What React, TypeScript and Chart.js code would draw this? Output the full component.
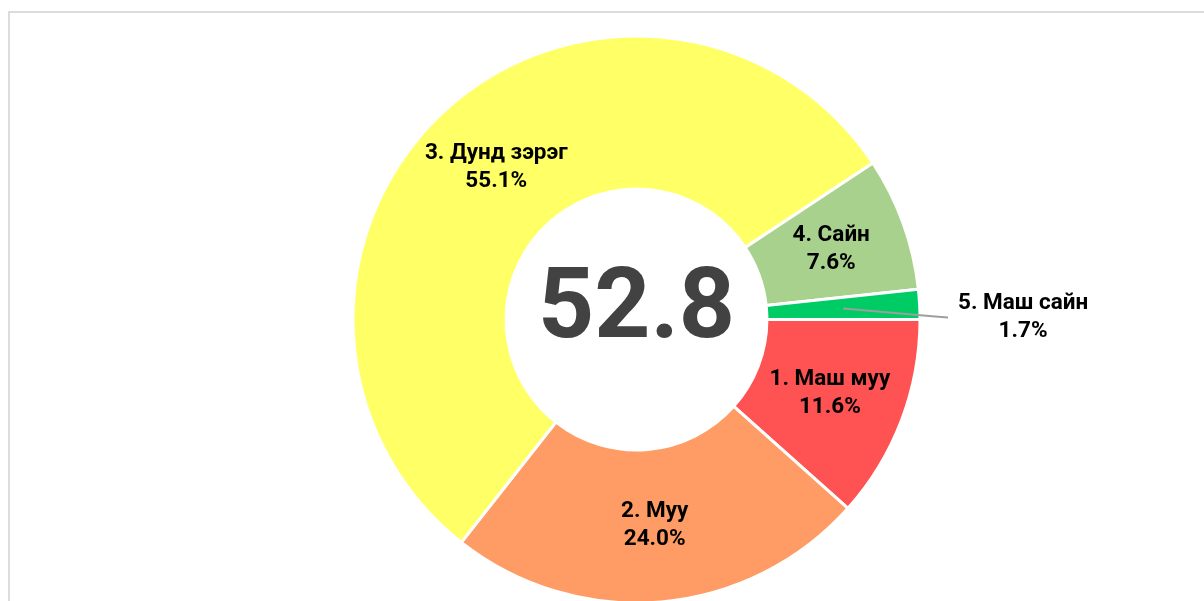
import React, { useEffect, useRef } from "react";
import { Chart, registerables } from "chart.js";

Chart.register(...registerables);

const categories = ["1. Маш муу", "2. Муу", "3. Дунд зэрэг", "4. Сайн", "5. Маш сайн"];
const shares = [11.6, 24.0, 55.1, 7.6, 1.7];
const sliceColors = ["#FF5252", "#FF9C66", "#FFFF66", "#A9D18E", "#00CC66"];
const centerValue = "52.8";

const labelPlugin = {
  id: "sliceLabels",
  afterDatasetsDraw(chart: any) {
    const ctx = chart.ctx as CanvasRenderingContext2D;
    const meta = chart.getDatasetMeta(0);
    const total = shares.reduce((a, b) => a + b, 0);
    ctx.save();
    meta.data.forEach((arc: any, i: number) => {
      const p = arc.getProps(["x", "y", "startAngle", "endAngle", "innerRadius", "outerRadius"], true);
      const mid = (p.startAngle + p.endAngle) / 2;
      const line1 = categories[i];
      const line2 = shares[i].toFixed(1) + "%";
      ctx.font = "bold 22.5px Roboto";
      ctx.fillStyle = "#000";
      ctx.textBaseline = "middle";
      ctx.textAlign = "center";
      const frac = shares[i] / total;
      const rMid = (p.innerRadius + p.outerRadius) / 2;
      const half = 14;
      if (frac >= 0.05) {
        const x = p.x + Math.cos(mid) * rMid;
        const y = p.y + Math.sin(mid) * rMid;
        ctx.fillText(line1, x, y - half);
        ctx.fillText(line2, x, y + half);
      } else {
        const sx = p.x + Math.cos(mid) * rMid;
        const sy = p.y + Math.sin(mid) * rMid;
        const ex = p.x + p.outerRadius + 28;
        const ey = p.y - 2;
        ctx.strokeStyle = "#9E9E9E";
        ctx.lineWidth = 2;
        ctx.beginPath();
        ctx.moveTo(sx, sy);
        ctx.lineTo(ex - 13, ey - 1);
        ctx.lineTo(ex, ey);
        ctx.stroke();
        const w = Math.max(ctx.measureText(line1).width, ctx.measureText(line2).width);
        const tx = ex + 10 + w / 2;
        ctx.fillText(line1, tx, ey - half);
        ctx.fillText(line2, tx, ey + half);
      }
    });
    const first = meta.data[0];
    if (first) {
      ctx.font = "bold 98px Roboto";
      ctx.fillStyle = "#424242";
      ctx.textAlign = "center";
      ctx.textBaseline = "alphabetic";
      ctx.fillText(centerValue, first.x, first.y + 17.5);
    }
    ctx.restore();
  },
};

export default function App() {
  const ref = useRef<HTMLCanvasElement>(null);
  useEffect(() => {
    if (!ref.current) return;
    const chart = new Chart(ref.current, {
      type: "doughnut",
      data: {
        labels: categories,
        datasets: [
          {
            data: shares,
            backgroundColor: sliceColors,
            borderColor: "#ffffff",
            borderWidth: 3,
          },
        ],
      },
      options: {
        responsive: false,
        animation: false,
        rotation: 90,
        cutout: "46%",
        layout: { padding: { left: 69, right: 0, top: 34.5, bottom: 35.5 } },
        plugins: {
          legend: { display: false },
          tooltip: { enabled: false },
        },
      },
      plugins: [labelPlugin],
    });
    return () => chart.destroy();
  }, []);

  return (
    <div
      style={{
        position: "fixed",
        left: 0,
        top: 0,
        width: 1204,
        height: 601,
        overflow: "hidden",
        background: "#fff",
      }}
    >
      <div
        style={{
          position: "absolute",
          left: 8,
          top: 11,
          width: 2000,
          height: 2000,
          border: "2px solid #DCDCDC",
          boxSizing: "border-box",
        }}
      />
      <canvas
        ref={ref}
        width={1204}
        height={640}
        style={{ position: "absolute", left: 0, top: 0, width: 1204, height: 640 }}
      />
    </div>
  );
}
